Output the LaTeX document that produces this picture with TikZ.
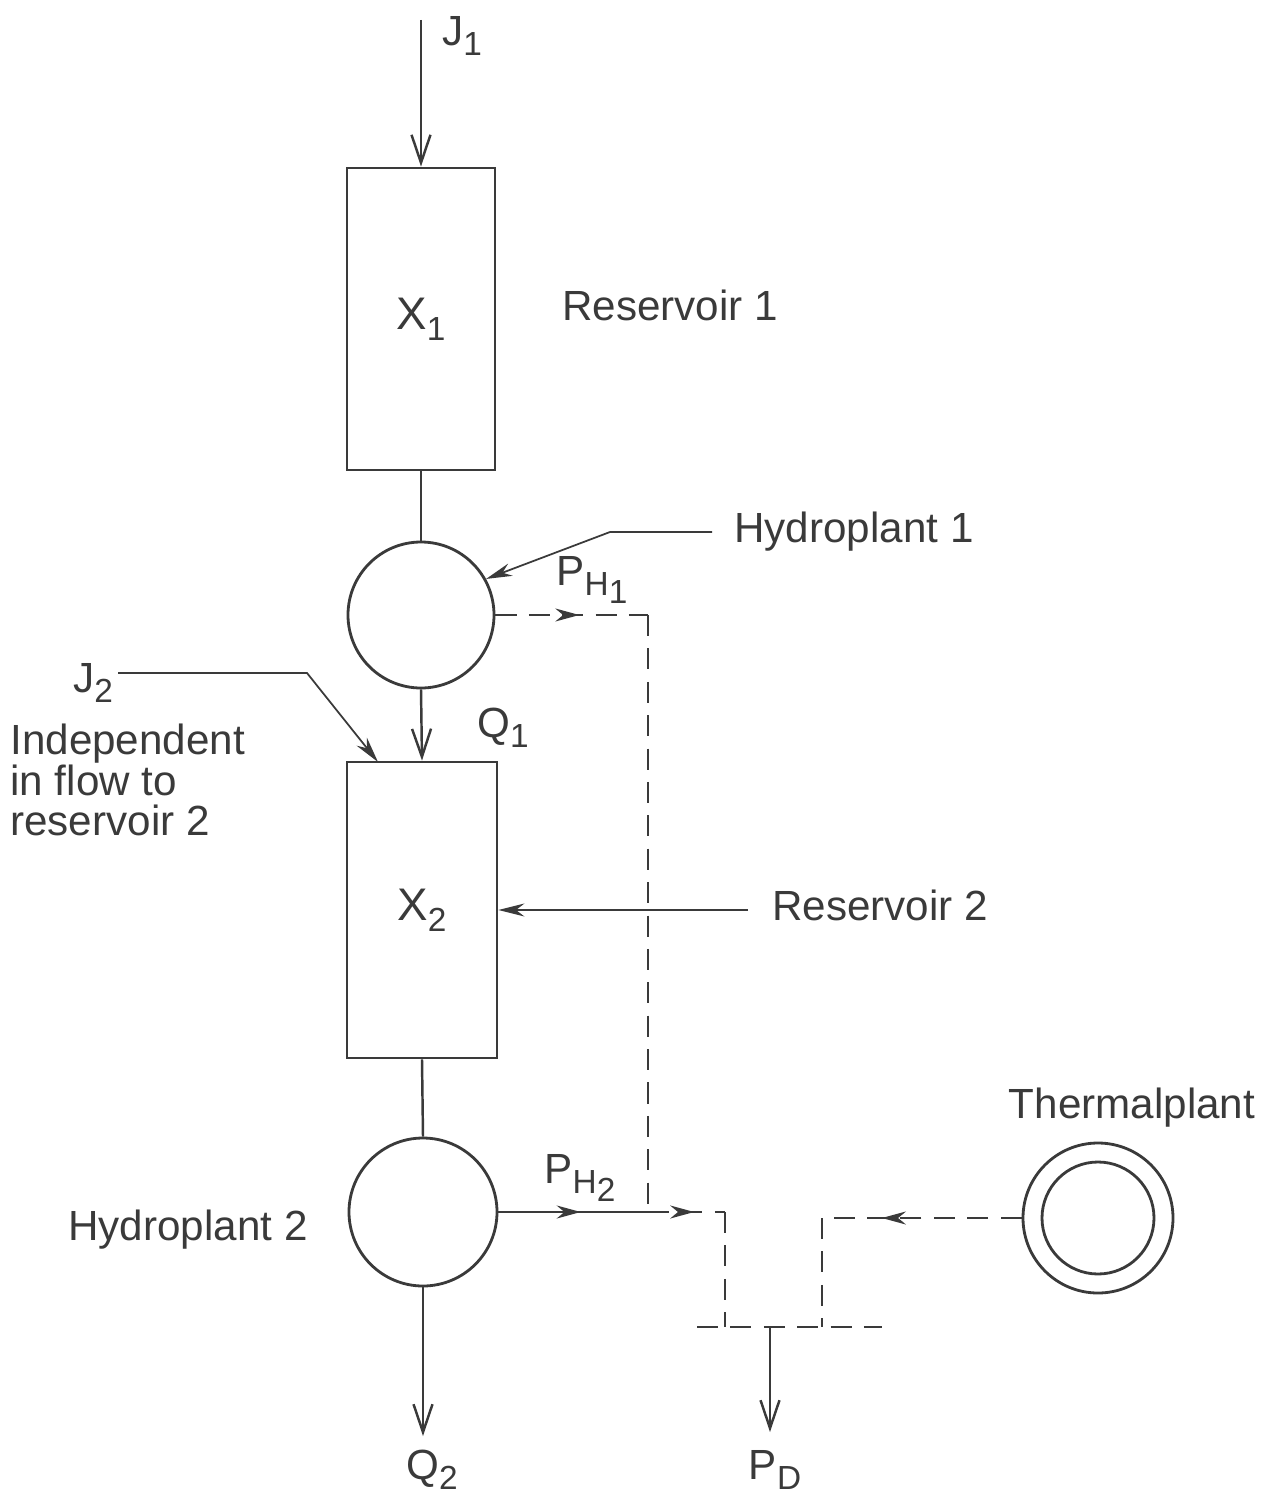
\documentclass[tikz,border=0pt]{standalone}
\usepackage{fontspec}
\setmainfont{Liberation Sans}
\usepackage{xcolor}
\usetikzlibrary{positioning, arrows.meta, decorations.markings}
\definecolor{ink}{HTML}{3A3A3A}
\newcommand{\lowsub}[1]{\raisebox{-0.45ex}{\fontsize{9.5}{10}\selectfont #1}}

\tikzset{
  resbox/.style={draw=ink, text=ink, line width=0.8pt, inner sep=0pt, font=\fontsize{13}{15}\selectfont},
  plant/.style={draw=ink, circle, line width=0.8pt, inner sep=0pt},
  flow/.style={draw=ink, line width=0.7pt, -{Straight Barb[length=2.8mm,width=1.9mm]}},
  leader/.style={draw=ink, line width=0.5pt, -{Stealth[length=2.6mm,width=1.3mm]}},
  dashflow/.style={draw=ink, line width=0.6pt, dash pattern=on 6pt off 3.5pt},
  midarrow/.style={postaction={decorate}, decoration={markings,
    mark=at position #1 with {\arrow{Stealth[length=2.4mm,width=1.3mm]}}}},
  lbl/.style={text=ink, font=\fontsize{12}{11.5}\selectfont}
}

\begin{document}
\begin{tikzpicture}
  \useasboundingbox (0,0) rectangle (12.67,-14.98);

  % reservoirs and plants
  \node[resbox, minimum width=1.48cm, minimum height=3.02cm] (res1) at (4.21,-3.19) {X\lowsub{1}};
  \node[plant, minimum size=1.46cm] (hp1) at (4.21,-6.15) {};
  \node[resbox, minimum width=1.50cm, minimum height=2.96cm] (res2) at (4.22,-9.10) {X\lowsub{2}};
  \node[plant, minimum size=1.48cm] (hp2) at (4.23,-12.12) {};
  \node[plant, minimum size=1.50cm] (th) at (10.98,-12.18) {};
  \node[plant, minimum size=1.12cm] (thin) at (th) {};

  % labels
  \node[lbl] (j1) at (4.62,-0.36) {J\lowsub{1}};
  \node[lbl, anchor=west] (r1lbl) at (5.50,-3.05) {Reservoir 1};
  \node[lbl, anchor=west] (hp1lbl) at (7.22,-5.32) {Hydroplant 1};
  \node[lbl] (ph1) at (5.92,-5.80) {P\lowsub{H\lowsub{1}}};
  \node[lbl] (q1) at (5.03,-7.28) {Q\lowsub{1}};
  \node[lbl] (j2) at (0.93,-6.83) {J\lowsub{2}};
  \node[lbl, anchor=north west, align=left] (indep) at (-0.02,-7.12)
    {Independent\\in flow to\\reservoir 2};
  \node[lbl, anchor=west] (r2lbl) at (7.60,-9.05) {Reservoir 2};
  \node[lbl] (hp2lbl) at (1.88,-12.30) {Hydroplant 2};
  \node[lbl] (ph2) at (5.80,-11.78) {P\lowsub{H\lowsub{2}}};
  \node[lbl] (thlbl) at (11.32,-11.08) {Thermalplant};
  \node[lbl] (q2) at (4.32,-14.70) {Q\lowsub{2}};
  \node[lbl] (pd) at (7.75,-14.70) {P\lowsub{D}};

  % helper points
  \coordinate (j1top) at (4.21,-0.20);
  \coordinate (hl1) at (7.12,-5.32);
  \coordinate (hl2) at (6.10,-5.32);
  \coordinate (jst) at (1.18,-6.73);
  \coordinate (jl) at (3.07,-6.73);
  \coordinate (j2tip) at (3.78,-7.62);
  \coordinate (r2l) at (7.48,-9.10);
  \coordinate (c1) at (6.48,-6.15);
  \coordinate (jn) at (6.48,-12.12);
  \coordinate (c2) at (7.25,-12.12);
  \coordinate (c3) at (8.22,-12.18);
  \coordinate (busL) at (6.97,-13.27);
  \coordinate (busR) at (8.82,-13.27);
  \coordinate (pdtop) at (7.70,-13.27);
  \coordinate (pdend) at (7.70,-14.32);
  \coordinate (q2end) at (4.23,-14.36);

  % water path
  \draw[flow] (j1top) -- (res1.north);
  \draw[draw=ink, line width=0.7pt] (res1.south) -- (hp1.north);
  \draw[flow] (hp1.south) -- (res2.north);
  \draw[draw=ink, line width=0.7pt] (res2.south) -- (hp2.north);
  \draw[flow] (hp2.south) -- (q2end);

  % leaders
  \draw[leader] (hl1) -- (hl2) -- (hp1.29);
  \draw[leader] (jst) -- (jl) -- (j2tip);
  \draw[leader] (r2l) -- (res2.east);

  % power path
  \draw[dashflow, midarrow=0.55] (hp1.east) -- (c1);
  \draw[dashflow] (c1) -- (jn);
  \draw[draw=ink, line width=0.6pt, midarrow=0.55] (hp2.east) -- (jn);
  \draw[dashflow, midarrow=0.6] (jn) -- (c2);
  \draw[dashflow] (c2) -- (c2 |- busL);
  \draw[dashflow, midarrow=0.7] (th.west) -- (c3);
  \draw[dashflow] (c3) -- (c3 |- busL);
  \draw[dashflow] (busL) -- (busR);
  \draw[flow] (pdtop) -- (pdend);
\end{tikzpicture}
\end{document}
